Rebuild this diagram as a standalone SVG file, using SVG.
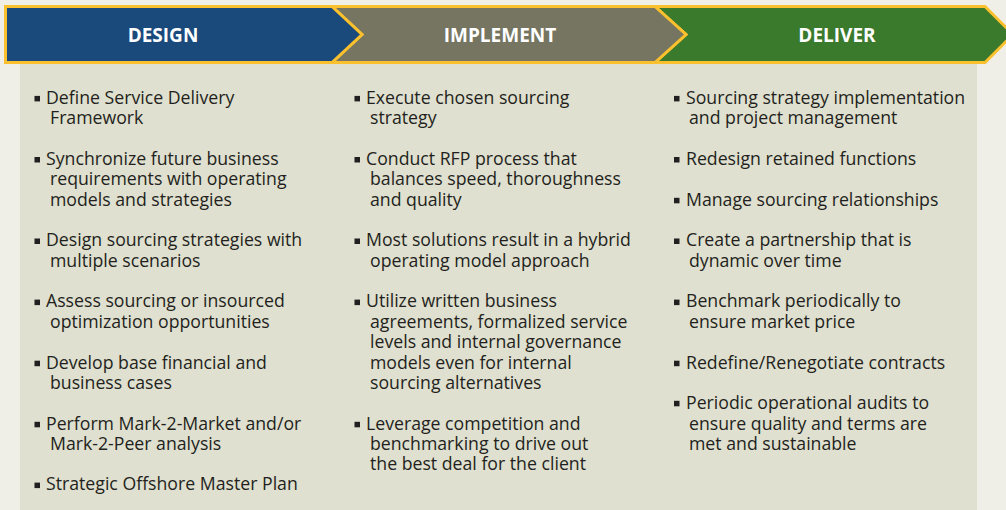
<svg xmlns="http://www.w3.org/2000/svg" width="1006" height="510" viewBox="0 0 1006 510">
<style>
.bg{fill:#efefe8}
.panel{fill:#dfe0cf}
.chev{stroke:#fbc02d;stroke-width:3;stroke-linejoin:miter}
.hd{font-family:"Open Sans","Liberation Sans",sans-serif;font-weight:700;font-size:19px;fill:#ffffff;text-anchor:middle}
.t{font-family:"Open Sans",Lato,"Liberation Sans",sans-serif;font-size:17.7px;fill:#231f20}
.b{fill:#231f20}
</style>
<rect class="bg" x="0" y="0" width="1006" height="510"/>
<rect class="panel" x="20" y="63" width="957" height="447"/>
<g id="deliver">
<polygon class="chev" fill="#3a7a2c" points="655,6.5 985,6.5 1013,34.5 985,62.5 655,62.5 686,34.5"/>
<text class="hd" x="837" y="42">DELIVER</text>
</g>
<g id="implement">
<polygon class="chev" fill="#757561" points="332,6.5 655,6.5 686,34.5 655,62.5 332,62.5 362,34.5"/>
<text class="hd" x="500" y="42">IMPLEMENT</text>
</g>
<g id="design">
<polygon class="chev" fill="#1a4a7b" points="5.5,6.5 332,6.5 362,34.5 332,62.5 5.5,62.5"/>
<text class="hd" x="163" y="42">DESIGN</text>
</g>
<g id="design-list">
<rect class="b" x="34.5" y="95.9" width="5.5" height="5.5"/>
<text class="t" x="46" y="103.7">Define Service Delivery</text>
<text class="t" x="50" y="124.1">Framework</text>
<rect class="b" x="34.5" y="157" width="5.5" height="5.5"/>
<text class="t" x="46" y="164.8">Synchronize future business</text>
<text class="t" x="50" y="185.2">requirements with operating</text>
<text class="t" x="50" y="205.6">models and strategies</text>
<rect class="b" x="34.5" y="238.5" width="5.5" height="5.5"/>
<text class="t" x="46" y="246.3">Design sourcing strategies with</text>
<text class="t" x="50" y="266.7">multiple scenarios</text>
<rect class="b" x="34.5" y="299.6" width="5.5" height="5.5"/>
<text class="t" x="46" y="307.4">Assess sourcing or insourced</text>
<text class="t" x="50" y="327.8">optimization opportunities</text>
<rect class="b" x="34.5" y="360.7" width="5.5" height="5.5"/>
<text class="t" x="46" y="368.5">Develop base financial and</text>
<text class="t" x="50" y="388.9">business cases</text>
<rect class="b" x="34.5" y="421.8" width="5.5" height="5.5"/>
<text class="t" x="46" y="429.6">Perform Mark-2-Market and/or</text>
<text class="t" x="50" y="450">Mark-2-Peer analysis</text>
<rect class="b" x="34.5" y="482.6" width="5.5" height="5.5"/>
<text class="t" x="46" y="490.4">Strategic Offshore Master Plan</text>
</g>
<g id="implement-list">
<rect class="b" x="354.5" y="95.9" width="5.5" height="5.5"/>
<text class="t" x="366" y="103.7">Execute chosen sourcing</text>
<text class="t" x="370" y="124.1">strategy</text>
<rect class="b" x="354.5" y="157" width="5.5" height="5.5"/>
<text class="t" x="366" y="164.8">Conduct RFP process that</text>
<text class="t" x="370" y="185.2">balances speed, thoroughness</text>
<text class="t" x="370" y="205.6">and quality</text>
<rect class="b" x="354.5" y="238.5" width="5.5" height="5.5"/>
<text class="t" x="366" y="246.3">Most solutions result in a hybrid</text>
<text class="t" x="370" y="266.7">operating model approach</text>
<rect class="b" x="354.5" y="299.6" width="5.5" height="5.5"/>
<text class="t" x="366" y="307.4">Utilize written business</text>
<text class="t" x="370" y="327.8">agreements, formalized service</text>
<text class="t" x="370" y="348.1">levels and internal governance</text>
<text class="t" x="370" y="368.5">models even for internal</text>
<text class="t" x="370" y="388.9">sourcing alternatives</text>
<rect class="b" x="354.5" y="421.8" width="5.5" height="5.5"/>
<text class="t" x="366" y="429.6">Leverage competition and</text>
<text class="t" x="370" y="450">benchmarking to drive out</text>
<text class="t" x="370" y="470.3">the best deal for the client</text>
</g>
<g id="deliver-list">
<rect class="b" x="674" y="95.9" width="5.5" height="5.5"/>
<text class="t" x="686" y="103.7">Sourcing strategy implementation</text>
<text class="t" x="689" y="124.1">and project management</text>
<rect class="b" x="674" y="157" width="5.5" height="5.5"/>
<text class="t" x="686" y="164.8">Redesign retained functions</text>
<rect class="b" x="674" y="197.8" width="5.5" height="5.5"/>
<text class="t" x="686" y="205.6">Manage sourcing relationships</text>
<rect class="b" x="674" y="238.5" width="5.5" height="5.5"/>
<text class="t" x="686" y="246.3">Create a partnership that is</text>
<text class="t" x="689" y="266.7">dynamic over time</text>
<rect class="b" x="674" y="299.6" width="5.5" height="5.5"/>
<text class="t" x="686" y="307.4">Benchmark periodically to</text>
<text class="t" x="689" y="327.8">ensure market price</text>
<rect class="b" x="674" y="360.7" width="5.5" height="5.5"/>
<text class="t" x="686" y="368.5">Redefine/Renegotiate contracts</text>
<rect class="b" x="674" y="400.8" width="5.5" height="5.5"/>
<text class="t" x="686" y="409.2">Periodic operational audits to</text>
<text class="t" x="689" y="429.6">ensure quality and terms are</text>
<text class="t" x="689" y="450">met and sustainable</text>
</g>
</svg>
